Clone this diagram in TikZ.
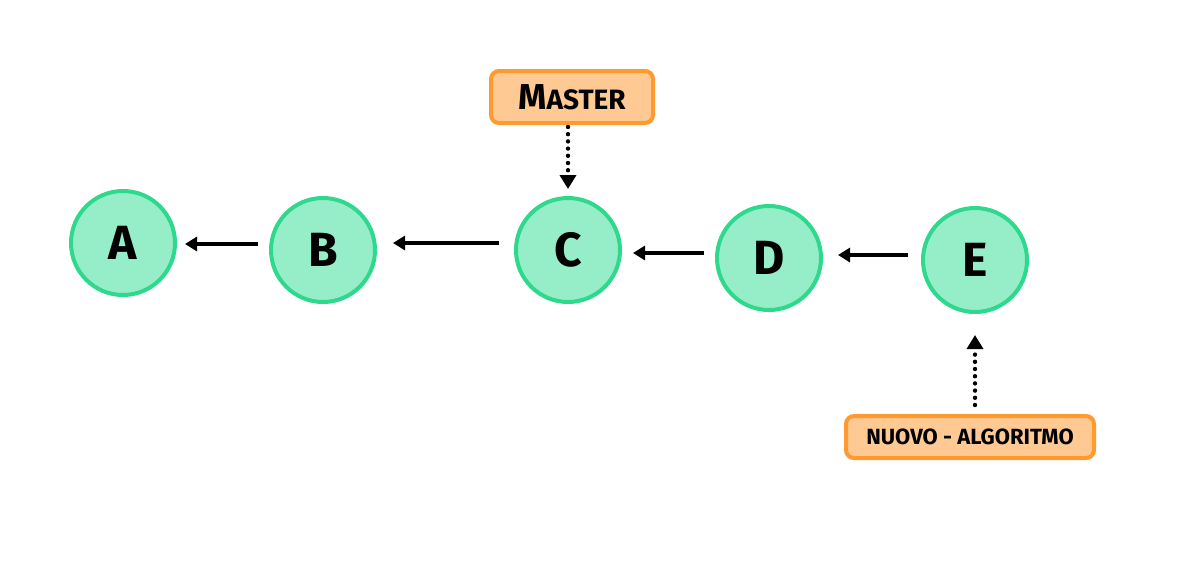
\documentclass[tikz,border=0pt]{standalone}
\usepackage{fontspec}
\setmainfont{Fira Sans}
\usetikzlibrary{arrows.meta}
\definecolor{nodefill}{HTML}{96EEC8}
\definecolor{nodeline}{HTML}{2ED88C}
\definecolor{tagfill}{HTML}{FFC994}
\definecolor{tagline}{HTML}{FF9A30}
\tikzset{
  commit/.style={circle, draw=nodeline, fill=nodefill, line width=2pt, minimum size=104*0.5pt, inner sep=0pt, font=\fontsize{24}{24}\selectfont\bfseries},
  tag/.style={rectangle, rounded corners=4pt, draw=tagline, fill=tagfill, line width=2pt, inner sep=0pt, font=\bfseries},
  link/.style={line width=1.6pt, -{Triangle[length=6pt,width=7pt]}},
  pointer/.style={line width=2.2pt, line cap=round, dash pattern=on 0pt off 3.6pt, -{Triangle[length=7pt,width=8pt]}},
}
\begin{document}
\begin{tikzpicture}[x=0.5pt,y=-0.5pt]
\useasboundingbox (0,0) rectangle (1200,563);
\node[commit] (A) at (123,243) {A};
\node[commit] (B) at (323,250) {B};
\node[commit] (C) at (568,250) {C};
\node[commit] (D) at (769,258) {D};
\node[commit] (E) at (975,260) {E};
\node[tag, minimum width=162*0.5pt, minimum height=52*0.5pt] (M) at (572,97) {\fontsize{18}{18}\selectfont M\fontsize{14}{14}\selectfont ASTER};
\node[tag, minimum width=248*0.5pt, minimum height=42*0.5pt] (N) at (970,437) {\fontsize{11}{11}\selectfont NUOVO - ALGORITMO};
\coordinate (bs) at (258,244); \coordinate (ae) at (185,244);
\coordinate (cs) at (499,243); \coordinate (be) at (393,243);
\coordinate (ds) at (704,253); \coordinate (ce) at (633,253);
\coordinate (es) at (908,255); \coordinate (de) at (838,255);
\draw[link] (bs) -- (ae);
\draw[link] (cs) -- (be);
\draw[link] (ds) -- (ce);
\draw[link] (es) -- (de);
\coordinate (ms) at (568,127); \coordinate (mt) at (568,189);
\coordinate (ns) at (975,405); \coordinate (nt) at (975,335);
\draw[pointer] (ms) -- (mt);
\draw[pointer] (ns) -- (nt);
\end{tikzpicture}
\end{document}
